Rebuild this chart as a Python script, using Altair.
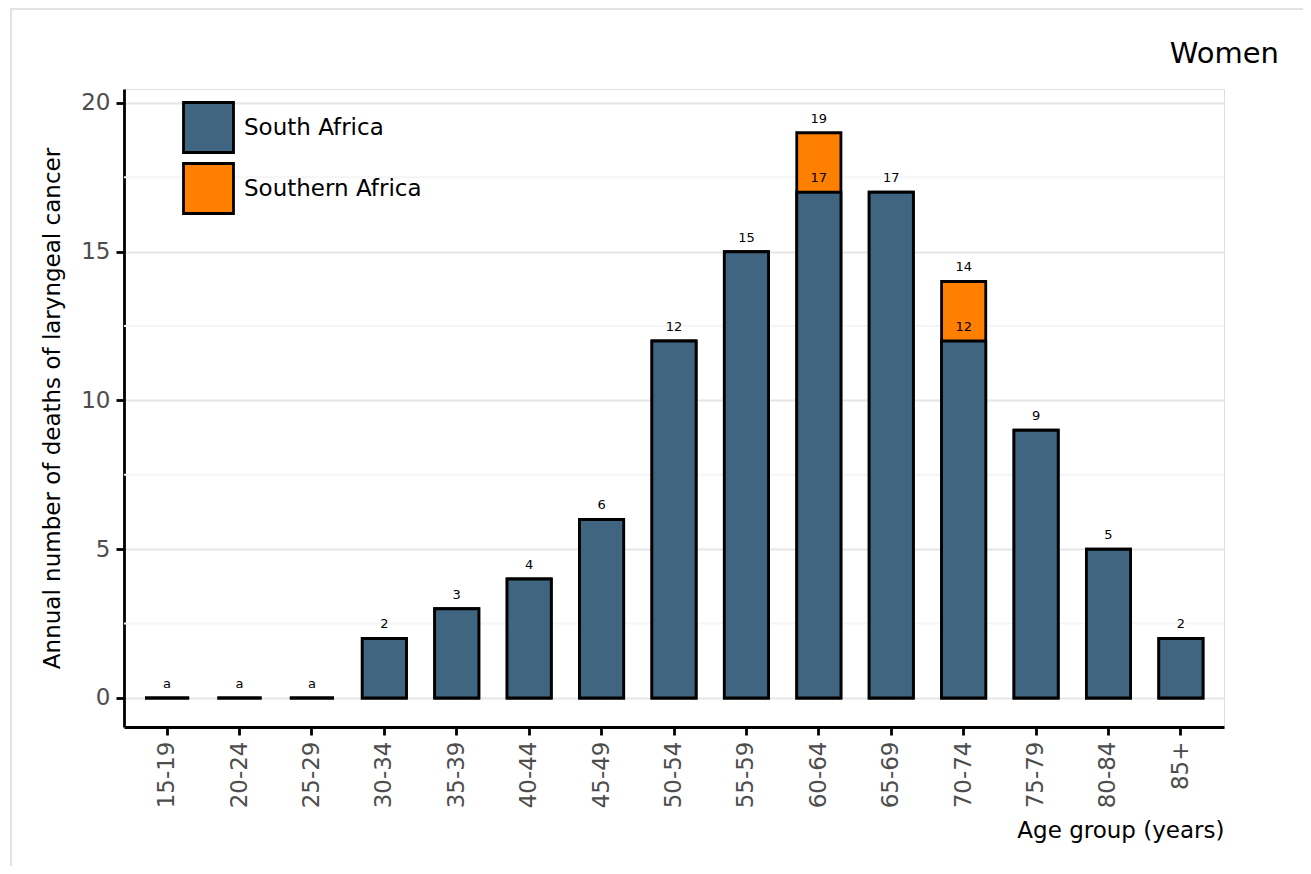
import altair as alt
import pandas as pd

ages = ["15-19", "20-24", "25-29", "30-34", "35-39", "40-44", "45-49", "50-54",
        "55-59", "60-64", "65-69", "70-74", "75-79", "80-84", "85+"]
south_africa = [0, 0, 0, 2, 3, 4, 6, 12, 15, 17, 17, 12, 9, 5, 2]
southern_africa = [0, 0, 0, 2, 3, 4, 6, 12, 15, 19, 17, 14, 9, 5, 2]
south_africa_labels = ["a", "a", "a", "2", "3", "4", "6", "12", "15", "17", "17", "12", "9", "5", "2"]
southern_africa_labels = ["a", "a", "a", "2", "3", "4", "6", "12", "15", "19", "17", "14", "9", "5", "2"]
minor_grid = [2.5, 7.5, 12.5, 17.5]
panel_title = ["Women"]

series_names = ["South Africa", "Southern Africa"]
colors = ["#3f6580", "#ff7f00"]

rows = []
for a, v, l in zip(ages, south_africa, south_africa_labels):
    rows.append({"age": a, "value": v, "label": l, "series": "South Africa", "show": True})
for a, v, l, v0 in zip(ages, southern_africa, southern_africa_labels, south_africa):
    rows.append({"age": a, "value": v, "label": l, "series": "Southern Africa", "show": v != v0})
df = pd.DataFrame(rows)
grid_df = pd.DataFrame({"g": minor_grid})

FONT = "DejaVu Sans"
W, H = 1100, 638
LW = 2.8

xscale = alt.Scale(domain=ages, paddingInner=0.39, paddingOuter=0.29)
yscale = alt.Scale(domain=[-0.975, 20.47], nice=False, zero=False)
cscale = alt.Scale(domain=series_names, range=colors)

border = alt.Chart(pd.DataFrame({"k": [0]})).mark_rect(
    fill=None, stroke="#e2e2e2", strokeWidth=2, clip=False
).encode(
    x=alt.value(-113), x2=alt.value(1400), y=alt.value(-80), y2=alt.value(900)
)

title_text = alt.Chart(pd.DataFrame({"t": panel_title})).mark_text(
    font=FONT, fontSize=29, color="black", align="right", baseline="alphabetic"
).encode(x=alt.value(1155), y=alt.value(-26), text="t:N")

minor = alt.Chart(grid_df).mark_rule(color="#f5f5f5", strokeWidth=2).encode(
    y=alt.Y("g:Q", scale=yscale)
)

x_enc = alt.X("age:N", scale=xscale, sort=ages, title="Age group (years)",
              axis=alt.Axis(labelAngle=-90, labelFontSize=23, labelColor="#4d4d4d",
                            labelFont=FONT, labelPadding=6, tickSize=8, tickWidth=LW,
                            tickColor="black", domainColor="black", domainWidth=LW,
                            titleFontSize=23, titleFont=FONT, titleFontWeight="normal",
                            titleColor="black", titleAnchor="end", titlePadding=12,
                            grid=False))
y_enc = alt.Y("value:Q", scale=yscale,
              title="Annual number of deaths of laryngeal cancer",
              axis=alt.Axis(values=[0, 5, 10, 15, 20], labelFontSize=23,
                            labelColor="#4d4d4d", labelFont=FONT, labelPadding=6,
                            tickSize=8, tickWidth=LW, tickColor="black",
                            domainColor="black", domainWidth=LW, grid=True,
                            gridColor="#e6e6e6", gridWidth=2,
                            titleFontSize=23, titleFont=FONT, titleFontWeight="normal",
                            titleColor="black", titlePadding=16))

color_enc = alt.Color("series:N", scale=cscale, title=None,
                      legend=alt.Legend(orient="none", legendX=58, legendY=12,
                                        symbolType="square", symbolSize=2500,
                                        symbolStrokeColor="black", symbolStrokeWidth=LW,
                                        symbolOpacity=1, labelFontSize=23, labelFont=FONT,
                                        labelColor="black", labelOffset=9, rowPadding=-2,
                                        labelLimit=0, padding=0))

bars_southern = alt.Chart(df).transform_filter(
    alt.datum.series == "Southern Africa"
).mark_bar(stroke="black", strokeWidth=LW, opacity=1).encode(
    x=x_enc, y=y_enc, y2=alt.datum(0), color=color_enc
)
bars_south = alt.Chart(df).transform_filter(
    alt.datum.series == "South Africa"
).mark_bar(stroke="black", strokeWidth=LW, opacity=1).encode(
    x=x_enc, y=y_enc, y2=alt.datum(0), color=color_enc
)

labels = alt.Chart(df).transform_filter(alt.datum.show).mark_text(
    font=FONT, fontSize=13, color="black", baseline="middle", dy=-14
).encode(
    x=alt.X("age:N", scale=xscale, sort=ages),
    y=alt.Y("value:Q", scale=yscale),
    text="label:N"
)

chart = alt.layer(border, minor, bars_southern, bars_south, labels, title_text).properties(
    width=W, height=H,
    autosize=alt.AutoSizeParams(type="none"),
    padding={"left": 116, "top": 81, "right": 79, "bottom": 139},
).configure_view(stroke=None).configure(background="white")

chart.save("out.html", embed_options={"renderer": "svg", "actions": False})
